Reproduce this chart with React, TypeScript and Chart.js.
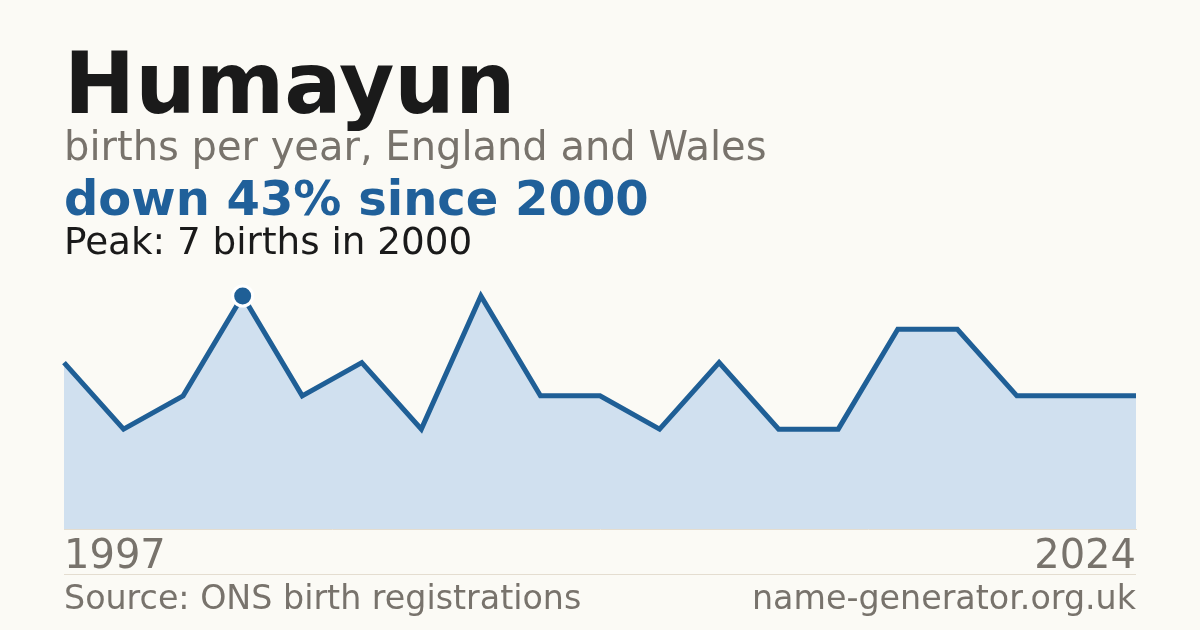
import React, { useEffect, useRef } from "react";
import { Chart, registerables } from "chart.js";

Chart.register(...registerables);

const years: string[] = [
  "1997", "1998", "1999", "2000", "2001", "2002", "2004", "2006", "2008", "2010",
  "2011", "2013", "2015", "2016", "2018", "2019", "2021", "2022", "2024",
];
const births: number[] = [5, 3, 4, 7, 4, 5, 3, 7, 4, 4, 3, 5, 3, 3, 6, 6, 4, 4, 4];

const BG = "#fbfaf5";
const LINE = "#1f5f96";
const FILL = "#d0e0ef";
const GREY = "#78736c";
const FONT = "'DejaVu Sans', sans-serif";

export default function App() {
  const ref = useRef<HTMLCanvasElement | null>(null);

  useEffect(() => {
    if (!ref.current) return;
    const peakIndex = births.indexOf(Math.max(...births));
    const chart = new Chart(ref.current, {
      type: "line",
      data: {
        labels: years,
        datasets: [
          {
            data: births,
            borderColor: LINE,
            borderWidth: 5,
            backgroundColor: FILL,
            fill: "origin",
            tension: 0,
            clip: false as any,
            pointRadius: (c: any) => (c.dataIndex === peakIndex ? 10 : 0),
            pointHoverRadius: (c: any) => (c.dataIndex === peakIndex ? 10 : 0),
            pointBackgroundColor: LINE,
            pointBorderColor: "#ffffff",
            pointBorderWidth: 3,
          },
        ],
      },
      options: {
        animation: false,
        responsive: false,
        devicePixelRatio: 1,
        events: [],
        layout: { padding: { left: 64, right: 64, top: 296, bottom: 43 } },
        plugins: { legend: { display: false }, tooltip: { enabled: false } },
        scales: {
          x: {
            type: "category",
            offset: false,
            grid: { display: false, drawTicks: false },
            border: { display: true, color: "#e4ddd0", width: 1 },
            ticks: {
              autoSkip: false,
              maxRotation: 0,
              align: "inner",
              padding: 5,
              color: GREY,
              font: { family: FONT, size: 40 },
              callback: (_v: any, i: number) =>
                i === 0 || i === years.length - 1 ? years[i] : "",
            },
          },
          y: { display: false, min: 0, max: 7 },
        },
      },
    });
    return () => chart.destroy();
  }, []);

  const text = (style: React.CSSProperties, content: string) => (
    <div
      style={{
        position: "absolute",
        left: 64,
        lineHeight: 1,
        whiteSpace: "nowrap",
        fontFamily: FONT,
        ...style,
      }}
    >
      {content}
    </div>
  );

  return (
    <div
      style={{
        position: "fixed",
        left: 0,
        top: 0,
        width: 1200,
        height: 630,
        background: BG,
        overflow: "hidden",
      }}
    >
      <canvas
        ref={ref}
        width={1200}
        height={630}
        style={{ position: "absolute", left: 0, top: 0, width: 1200, height: 630 }}
      />
      {text({ top: 41, fontSize: 85, fontWeight: "bold", color: "#1a1a1a" }, "Humayun")}
      {text({ top: 126, fontSize: 40, color: GREY }, "births per year, England and Wales")}
      {text({ top: 174, fontSize: 48, fontWeight: "bold", color: "#20609a" }, "down 43% since 2000")}
      {text({ top: 223, fontSize: 37.3, color: "#1a1a1a" }, "Peak: 7 births in 2000")}
      <div
        style={{
          position: "absolute",
          left: 64,
          top: 574,
          width: 1072,
          height: 1,
          background: "#e4ddd0",
        }}
      />
      {text({ top: 581, fontSize: 33.3, color: GREY }, "Source: ONS birth registrations")}
      {text(
        { top: 581, left: undefined, right: 64, fontSize: 33.3, color: GREY },
        "name-generator.org.uk"
      )}
    </div>
  );
}
